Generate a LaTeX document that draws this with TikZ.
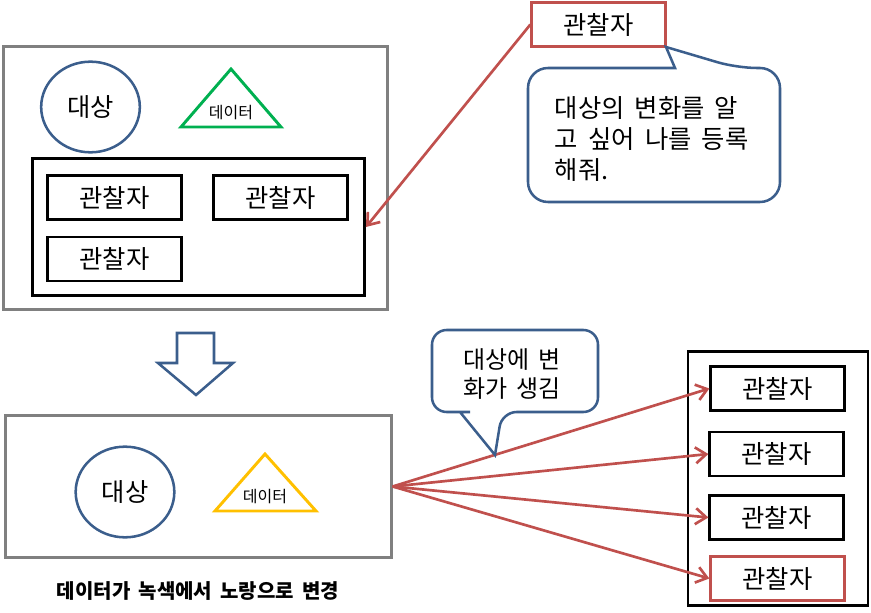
\documentclass[tikz,border=0pt]{standalone}
\usepackage{fontspec}
\setmainfont{Noto Sans CJK KR}[WordSpace=1.8]
\usetikzlibrary{arrows.meta,shapes.geometric,positioning}
\definecolor{framegray}{HTML}{808080}
\definecolor{subjblue}{HTML}{3B5E8C}
\definecolor{obsred}{HTML}{C0504D}
\definecolor{datagreen}{HTML}{00B050}
\definecolor{datayellow}{HTML}{FFC000}

\begin{document}
\begin{tikzpicture}[x=0.75pt, y=-0.75pt,
    >={Straight Barb[length=8pt,width=12pt]},
    frame/.style={draw=framegray, line width=2.2pt, inner sep=0pt},
    group/.style={draw=black, line width=2.2pt, inner sep=0pt},
    obs/.style={draw=black, line width=2.2pt, inner sep=0pt,
                minimum width=100pt, minimum height=33pt,
                font=\fontsize{19}{21}\selectfont},
    subj/.style={ellipse, draw=subjblue, line width=1.9pt, inner sep=0pt,
                 minimum width=74pt, minimum height=68pt,
                 font=\fontsize{19}{21}\selectfont},
    datatxt/.style={font=\fontsize{12}{14}\selectfont},
    callout/.style={draw=subjblue, line width=1.9pt, fill=white},
    saytxt/.style={align=left, font=\fontsize{19}{23}\selectfont},
    link/.style={->, draw=obsred, line width=2pt}]
  \useasboundingbox (0,0) rectangle (871,613);

  % ---- Top: subject with registered observers ----
  \node[frame, minimum width=288pt, minimum height=197pt] (top) at (195.5,178) {};
  \node[subj] (subj1) at (90.5,107) {대상};
  \draw[datagreen, line width=2.2pt] (231,69) -- (281,127) -- (181,127) -- cycle;
  \node[datatxt] (data1) at (231,113) {데이터};
  \node[group, minimum width=249pt, minimum height=103pt] (obsgroup) at (198.5,227) {};
  \node[obs] (obsA) at (114.5,197.5) {관찰자};
  \node[obs] (obsB) at (280.5,197.5) {관찰자};
  \node[obs] (obsC) at (114.5,259) {관찰자};

  % new observer asks to be registered
  \node[obs, draw=obsred] (obsnew) at (598.5,24.5) {관찰자};
  \draw[link] (obsnew.west) -- (obsgroup.east);
  \draw[callout] (650,202) [rounded corners=15pt] -- (780,202) -- (780,68)
    -- (737,68) [sharp corners] -- (666,47) -- (675,68) -- (665,68)
    [rounded corners=15pt] -- (528,68) -- (528,202) -- cycle;
  \node[saytxt, anchor=west] (say1) at (550,139)
    {대상의 변화를 알\\고 싶어 나를 등록\\해줘.};

  % ---- Down arrow ----
  \draw[subjblue, line width=1.9pt, fill=white]
    (177,333) -- (214,333) -- (214,363) -- (233,363) -- (196,395)
    -- (158,363) -- (177,363) -- cycle;

  % ---- Bottom: subject changes and notifies ----
  \node[frame, minimum width=289pt, minimum height=106pt] (bottom) at (198.5,486.5) {};
  \node[subj] (subj2) at (125,492) {대상};
  \draw[datayellow, line width=2.2pt] (265,454) -- (316,511) -- (215,511) -- cycle;
  \node[datatxt] (data2) at (265,497) {데이터};
  \node[font=\bfseries\fontsize{15}{17}\selectfont] (caption) at (198,591)
    {데이터가 녹색에서 노랑으로 변경};

  \node[group, minimum width=135pt, minimum height=191pt] (obslist) at (778,478.5) {};
  \node[obs] (robsA) at (777.5,388.5) {관찰자};
  \node[obs] (robsB) at (776.5,454) {관찰자};
  \node[obs] (robsC) at (776.5,517.5) {관찰자};
  \node[obs, draw=obsred] (robsD) at (777.5,578.5) {관찰자};
  \foreach \r in {robsA,robsB,robsC,robsD}
    \draw[link] (bottom.east) -- (\r.west);

  \draw[callout] (515,330) [rounded corners=11pt] -- (598,330) -- (598,412)
    -- (502,412) [sharp corners] -- (495,455) -- (460,412) -- (470,412)
    [rounded corners=11pt] -- (432,412) -- (432,330) -- cycle;
  \node[saytxt, align=center, font=\fontsize{18}{22}\selectfont] (say2)
    at (512,374) {대상에 변\\화가 생김};
\end{tikzpicture}
\end{document}
